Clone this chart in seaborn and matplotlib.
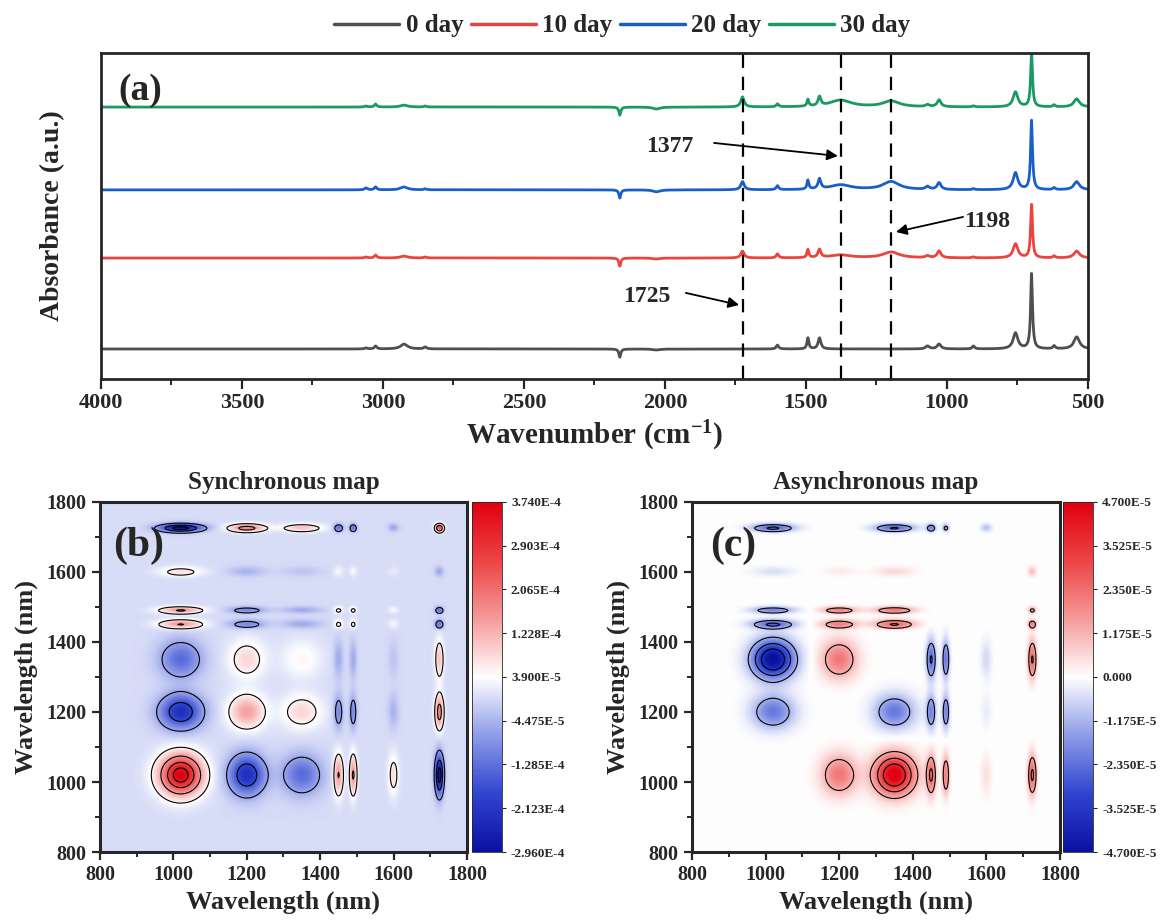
import numpy as np
import pandas as pd
import matplotlib
matplotlib.use("Agg")
import matplotlib.pyplot as plt
from matplotlib.colors import LinearSegmentedColormap
from matplotlib.ticker import MultipleLocator
import seaborn as sns

# ---- (a) FTIR spectra: peak table ----
days = ["0 day", "10 day", "20 day", "30 day"]
day_colors = ["#4f4f4f", "#e8453f", "#1a5fc8", "#1a9a62"]
day_offsets = [0.092, 0.371, 0.580, 0.834]

band_pos = [3060, 3026, 2925, 2850, 2160, 2030, 1725, 1601, 1493, 1452, 1377, 1198, 1069, 1028, 906, 757, 700, 620, 540]
band_hwhm = [6, 5, 15, 6, 4, 15, 7, 5, 4, 6, 45, 35, 8, 8, 5, 10, 4, 5, 12]
height_0 = [0.003, 0.009, 0.015, 0.006, -0.025, -0.003, 0.000, 0.012, 0.034, 0.034, 0.000, 0.000, 0.009, 0.015, 0.009, 0.049, 0.230, 0.009, 0.037]
height_10 = [0.003, 0.009, 0.006, 0.003, -0.025, -0.003, 0.021, 0.012, 0.025, 0.025, 0.009, 0.018, 0.006, 0.021, 0.003, 0.043, 0.163, 0.006, 0.021]
height_20 = [0.006, 0.009, 0.009, 0.003, -0.025, -0.006, 0.025, 0.012, 0.028, 0.031, 0.015, 0.025, 0.009, 0.021, 0.003, 0.052, 0.212, 0.006, 0.025]
height_30 = [0.003, 0.009, 0.006, 0.003, -0.025, -0.006, 0.031, 0.009, 0.021, 0.028, 0.021, 0.018, 0.006, 0.021, 0.003, 0.046, 0.163, 0.006, 0.025]
day_heights = [height_0, height_10, height_20, height_30]

marked_bands = [1725, 1377, 1198]

# ---- (b)/(c) 2D correlation: cross peaks (nm) ----
peaks_nm = [1020, 1200, 1350, 1450, 1490, 1600, 1725]
peak_sigma = [40, 34, 38, 9, 7, 10, 8]
sync_amp = [1.0, -0.62, -0.36, 0.42, 0.42, 0.2, -0.8]
sync_scale = 3.74e-4
# async_amp[row = y peak][col = x peak], units 1e-5
async_amp = [
    [0.0, 2.2, 4.9, 2.5, 2.0, 0.5, 2.6],
    [-2.2, 0.0, -2.2, -2.0, -2.0, -0.3, 0.0],
    [-4.9, 2.2, 0.0, -2.5, -2.2, -0.6, 2.5],
    [-2.5, 2.0, 2.5, 0.0, 0.0, 0.0, 2.0],
    [-2.0, 2.0, 2.2, 0.0, 0.0, 0.0, 1.5],
    [-0.5, 0.3, 0.6, 0.0, 0.0, 0.0, 1.0],
    [-2.6, 0.0, -2.5, -2.0, -1.5, -1.0, 0.0],
]

sync_ticks = [-2.96e-4, -2.123e-4, -1.285e-4, -4.475e-5, 3.9e-5, 1.228e-4, 2.065e-4, 2.903e-4, 3.74e-4]
sync_tick_labels = ["-2.960E-4", "-2.123E-4", "-1.285E-4", "-4.475E-5", "3.900E-5", "1.228E-4", "2.065E-4", "2.903E-4", "3.740E-4"]
async_ticks = [-4.7e-5, -3.525e-5, -2.35e-5, -1.175e-5, 0.0, 1.175e-5, 2.35e-5, 3.525e-5, 4.7e-5]
async_tick_labels = ["-4.700E-5", "-3.525E-5", "-2.350E-5", "-1.175E-5", "0.000", "1.175E-5", "2.350E-5", "3.525E-5", "4.700E-5"]
sync_levels = [-2.6e-4, -1.7e-4, -6e-5, 5e-5, 1.5e-4, 2.5e-4, 3.3e-4]
async_levels = [-3.6e-5, -2.4e-5, -1.2e-5, 1.2e-5, 2.4e-5, 3.6e-5]

# 스타일
sns.set_style("ticks")
plt.rcParams["font.family"] = ["Liberation Serif", "DejaVu Serif"]
plt.rcParams["font.weight"] = "bold"
plt.rcParams["axes.labelweight"] = "bold"
plt.rcParams["axes.titleweight"] = "bold"
plt.rcParams["mathtext.fontset"] = "custom"
plt.rcParams["mathtext.rm"] = "Liberation Serif:bold"
plt.rcParams["mathtext.bf"] = "Liberation Serif:bold"
plt.rcParams["mathtext.default"] = "rm"

fig = plt.figure(figsize=(11.63, 9.21), dpi=100)

# ---------------- (a) ----------------
ax = fig.add_axes([0.0868, 0.5885, 0.8487, 0.354])
wn = np.arange(500, 4000.5, 0.5)
rows = []
for day, off, hts in zip(days, day_offsets, day_heights):
    y = np.full_like(wn, off)
    for c, w, h in zip(band_pos, band_hwhm, hts):
        y += h * w ** 2 / ((wn - c) ** 2 + w ** 2)
    rows.append(pd.DataFrame({"wn": wn, "A": y, "day": day}))
spec = pd.concat(rows, ignore_index=True)

sns.lineplot(data=spec, x="wn", y="A", hue="day", hue_order=days,
             palette=dict(zip(days, day_colors)), linewidth=2, sort=False,
             estimator=None, ax=ax)
handles, labels = ax.get_legend_handles_labels()
ax.get_legend().remove()
for h in handles:
    h.set_linewidth(2.5)
fig.legend(handles, labels, ncol=4, loc="center", bbox_to_anchor=(0.535, 0.972),
           frameon=False, fontsize=18, handlelength=2.6, handletextpad=0.25,
           columnspacing=0.3)

for b in marked_bands:
    ax.axvline(b, color="black", lw=1.6, ls=(0, (6, 4)))

ax.annotate("", xy=(1387, 0.684), xytext=(1826, 0.724),
            arrowprops=dict(arrowstyle="-|>", color="black", lw=1.3, mutation_scale=16, shrinkA=0, shrinkB=0))
ax.text(1982, 0.712, "1377", ha="center", va="center", fontsize=17)
ax.annotate("", xy=(1181, 0.451), xytext=(943, 0.497),
            arrowprops=dict(arrowstyle="-|>", color="black", lw=1.3, mutation_scale=16, shrinkA=0, shrinkB=0))
ax.text(858, 0.482, "1198", ha="center", va="center", fontsize=17)
ax.annotate("", xy=(1737, 0.227), xytext=(1926, 0.264),
            arrowprops=dict(arrowstyle="-|>", color="black", lw=1.3, mutation_scale=16, shrinkA=0, shrinkB=0))
ax.text(2064, 0.252, "1725", ha="center", va="center", fontsize=17)
ax.text(0.018, 0.885, "(a)", transform=ax.transAxes, fontsize=27, va="center")

ax.set_xlim(4000, 500)
ax.set_ylim(0, 1)
ax.set_yticks([])
ax.xaxis.set_major_locator(MultipleLocator(500))
ax.xaxis.set_minor_locator(MultipleLocator(250))
ax.tick_params(axis="x", which="major", direction="out", length=7, width=1.6, labelsize=16, pad=3)
ax.tick_params(axis="x", which="minor", direction="out", length=4, width=1.4)
ax.set_xlabel(r"Wavenumber (cm$^{-1}$)", fontsize=21, labelpad=4)
ax.set_ylabel("Absorbance (a.u.)", fontsize=20, labelpad=26)
for s in ax.spines.values():
    s.set_linewidth(2)
    s.set_visible(True)

# ---------------- (b), (c) ----------------
nm = np.linspace(800, 1800, 501)
G = np.array([np.exp(-(nm - c) ** 2 / (2 * s ** 2)) for c, s in zip(peaks_nm, peak_sigma)])
v = np.array(sync_amp) @ G
sync_map = sync_scale * np.outer(v, v)
async_map = 1e-5 * (G.T @ np.array(async_amp) @ G)

cmap = LinearSegmentedColormap.from_list(
    "bwr2", ["#0b10a0", "#2f45d0", "#8f9ce8", "#ffffff", "#f59a9a", "#ec4444", "#e00010"])


def corr_panel(ax, cax, z, vmin, vmax, levels, ticks, tick_labels, title, tag, tagx):
    im = ax.imshow(z, origin="lower", extent=[800, 1800, 800, 1800], cmap=cmap,
                   vmin=vmin, vmax=vmax, aspect="auto", interpolation="bilinear")
    ax.contour(nm, nm, z, levels=levels, colors="black", linewidths=0.8,
               linestyles="solid")
    ax.set_xlim(800, 1800)
    ax.set_ylim(800, 1800)
    for a in (ax.xaxis, ax.yaxis):
        a.set_major_locator(MultipleLocator(200))
        a.set_minor_locator(MultipleLocator(100))
    ax.tick_params(which="major", direction="out", length=6, width=1.6, labelsize=14.5)
    ax.tick_params(which="minor", direction="out", length=3.5, width=1.4)
    ax.set_xlabel("Wavelength (nm)", fontsize=19, labelpad=4)
    ax.set_ylabel("Wavelength (nm)", fontsize=19, labelpad=6)
    ax.set_title(title, fontsize=18, pad=9)
    ax.text(tagx, 0.875, tag, transform=ax.transAxes, fontsize=30, va="center")
    for s in ax.spines.values():
        s.set_linewidth(2.2)
    cb = fig.colorbar(im, cax=cax, ticks=ticks)
    cb.set_ticklabels(tick_labels)
    cb.outline.set_linewidth(0.6)
    cax.tick_params(direction="out", length=3, width=0.8, labelsize=9.5)


ax_s = fig.add_axes([0.086, 0.0749, 0.3155, 0.3801])
cax_s = fig.add_axes([0.4058, 0.0749, 0.0258, 0.3801])
corr_panel(ax_s, cax_s, sync_map, -2.96e-4, 3.74e-4, sync_levels, sync_ticks,
           sync_tick_labels, "Synchronous map", "(b)", 0.035)

ax_a = fig.add_axes([0.595, 0.0749, 0.3164, 0.3801])
cax_a = fig.add_axes([0.914, 0.0749, 0.0258, 0.3801])
corr_panel(ax_a, cax_a, async_map, -4.7e-5, 4.7e-5, async_levels, async_ticks,
           async_tick_labels, "Asynchronous map", "(c)", 0.05)

fig.savefig("out.png", dpi=100)
